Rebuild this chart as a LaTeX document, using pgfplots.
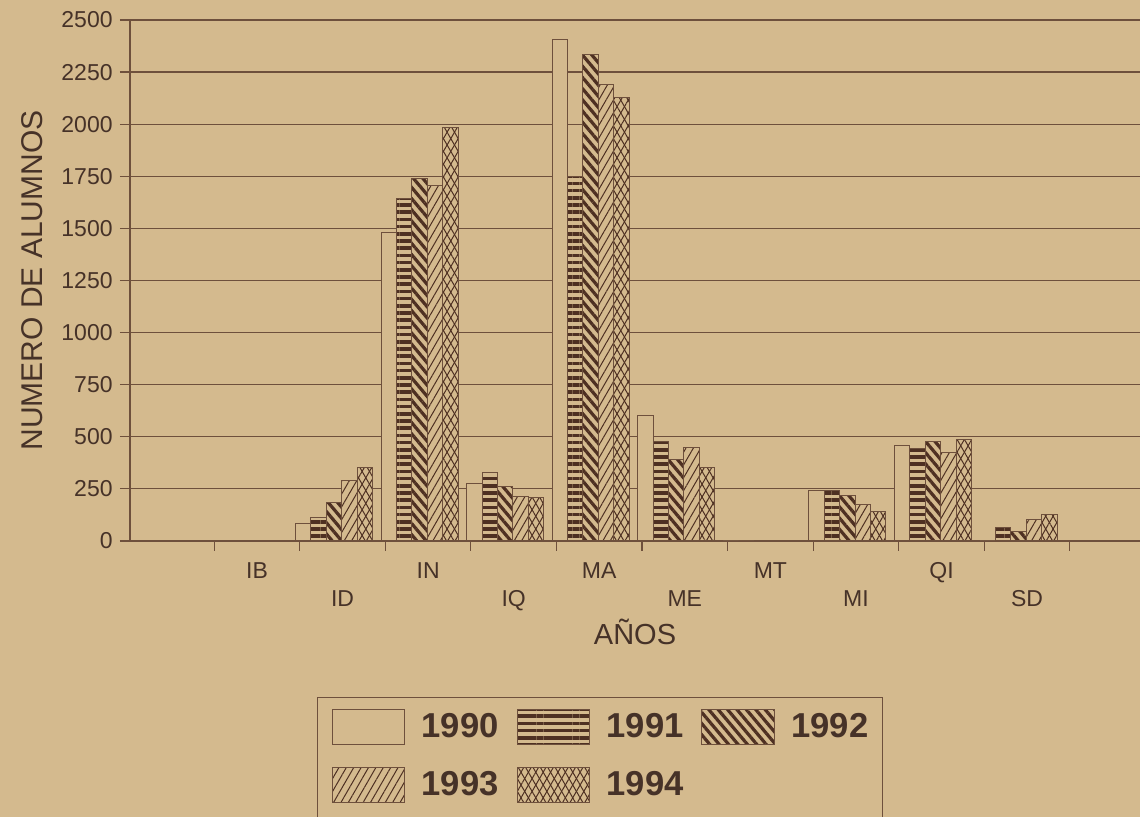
\documentclass[border=0pt]{standalone}
\usepackage{fontspec}
\setmainfont{Liberation Sans}
\usepackage{pgfplots}
\pgfplotsset{compat=1.18}
\usetikzlibrary{patterns.meta}
\definecolor{bg}{RGB}{212,186,142}
\definecolor{ln}{RGB}{110,80,60}
\definecolor{pc}{RGB}{78,48,34}
\definecolor{tx}{RGB}{70,50,40}
\pgfplotsset{myleg/.style={legend image code/.code={\draw[##1] (0pt,-8.75pt) rectangle (36pt,8.75pt);}}}
\begin{document}
\begin{tikzpicture}
\useasboundingbox (-65pt,-138pt) rectangle (505pt,270.5pt);
\clip (-65pt,-138pt) rectangle (505pt,270.5pt);
\fill[bg] (-65pt,-138pt) rectangle (505pt,270.5pt);
\begin{axis}[
  scale only axis, width=505pt, height=260.5pt,
  at={(0pt,0pt)}, anchor=south west,
  xmin=-0.484, xmax=11.32, ymin=0, ymax=2500,
  axis x line*=bottom, axis y line*=left,
  axis line style={ln, line width=0.6pt},
  ybar=0pt, bar width=7.7pt,
  ytick={0,250,...,2500},
  ymajorgrids, grid style={ln, line width=0.6pt},
  tick align=outside, major tick length=5pt,
  tick style={ln, line width=0.6pt},
  xtick={0.5,1.5,...,10.5}, xticklabels={},
  extra x ticks={1,2,3,4,5,6,7,8,9,10},
  extra x tick labels={IB,{\vphantom{I}\\ID},IN,{\vphantom{I}\\IQ},MA,{\vphantom{I}\\ME},MT,{\vphantom{I}\\MI},QI,{\vphantom{I}\\SD}},
  extra x tick style={major tick length=0pt, xticklabel style={align=center, anchor=north, inner sep=0pt, yshift=-10.5pt}},
  xticklabel style={font=\fontsize{11.5}{14}\selectfont, text=tx},
  yticklabel style={font=\fontsize{11.5}{14}\selectfont, text=tx, inner sep=0pt, xshift=-3.5pt},
  /pgf/number format/assume math mode=true,
  /pgf/number format/1000 sep={},
  every axis y label/.style={at={(axis description cs:-0.097,0.5)}, rotate=90, anchor=center, font=\fontsize{15}{18}\selectfont, text=tx},
  every axis x label/.style={at={(axis description cs:0.5,-0.1747)}, anchor=center, font=\fontsize{14.5}{17}\selectfont, text=tx},
  ylabel={NUMERO DE ALUMNOS},
  xlabel={AÑOS},
  legend columns=3,
  legend style={draw=ln, line width=0.6pt, fill=none, text=tx,
    at={(axis description cs:0.1851,-0.2994)}, anchor=north west,
    font=\fontsize{17.3}{20}\selectfont\bfseries,
    inner xsep=7pt, inner ysep=5.5pt, row sep=11pt,
    /tikz/every odd column/.append style={column sep=8.5pt},
    /tikz/every even column/.append style={column sep=9pt},
    nodes={inner sep=0pt}},
]
\addplot[myleg, draw=ln, line width=0.5pt, fill=bg] coordinates {
 (0.9,4) (1.9,85) (2.9,1478) (3.9,278) (4.9,2408) (5.9,603) (6.9,0) (7.9,240) (8.9,457) (9.9,0)};
\addlegendentry{1990}
\addplot[myleg, draw=ln, line width=0.5pt, preaction={fill=bg}, pattern={Lines[angle=0,distance=3.6pt,line width=1.8pt]}, pattern color=pc] coordinates {
 (0.9,4) (1.9,112) (2.9,1644) (3.9,328) (4.9,1750) (5.9,477) (6.9,0) (7.9,242) (8.9,445) (9.9,67)};
\addlegendentry{1991}
\addplot[myleg, draw=ln, line width=0.5pt, preaction={fill=bg}, pattern={Lines[angle=-50,distance=3.6pt,line width=1.6pt]}, pattern color=pc] coordinates {
 (0.9,4) (1.9,186) (2.9,1740) (3.9,260) (4.9,2333) (5.9,392) (6.9,3) (7.9,218) (8.9,477) (9.9,47)};
\addlegendentry{1992}
\addplot[myleg, draw=ln, line width=0.5pt, preaction={fill=bg}, pattern={Lines[angle=60,distance=3.2pt,line width=0.5pt]}, pattern color=pc] coordinates {
 (0.9,4) (1.9,290) (2.9,1708) (3.9,212) (4.9,2192) (5.9,447) (6.9,3) (7.9,177) (8.9,424) (9.9,102)};
\addlegendentry{1993}
\addplot[myleg, draw=ln, line width=0.5pt, preaction={fill=bg}, pattern={Lines[angle=60,distance=3.2pt,line width=0.5pt]}, pattern color=pc, postaction={pattern={Lines[angle=-60,distance=3.2pt,line width=0.5pt]}, pattern color=pc}] coordinates {
 (0.9,3) (1.9,354) (2.9,1986) (3.9,207) (4.9,2128) (5.9,352) (6.9,3) (7.9,143) (8.9,488) (9.9,125)};
\addlegendentry{1994}
\addlegendimage{empty legend}
\addlegendentry{}
\addlegendimage{empty legend}
\addlegendentry{}
\end{axis}
\end{tikzpicture}
\end{document}
